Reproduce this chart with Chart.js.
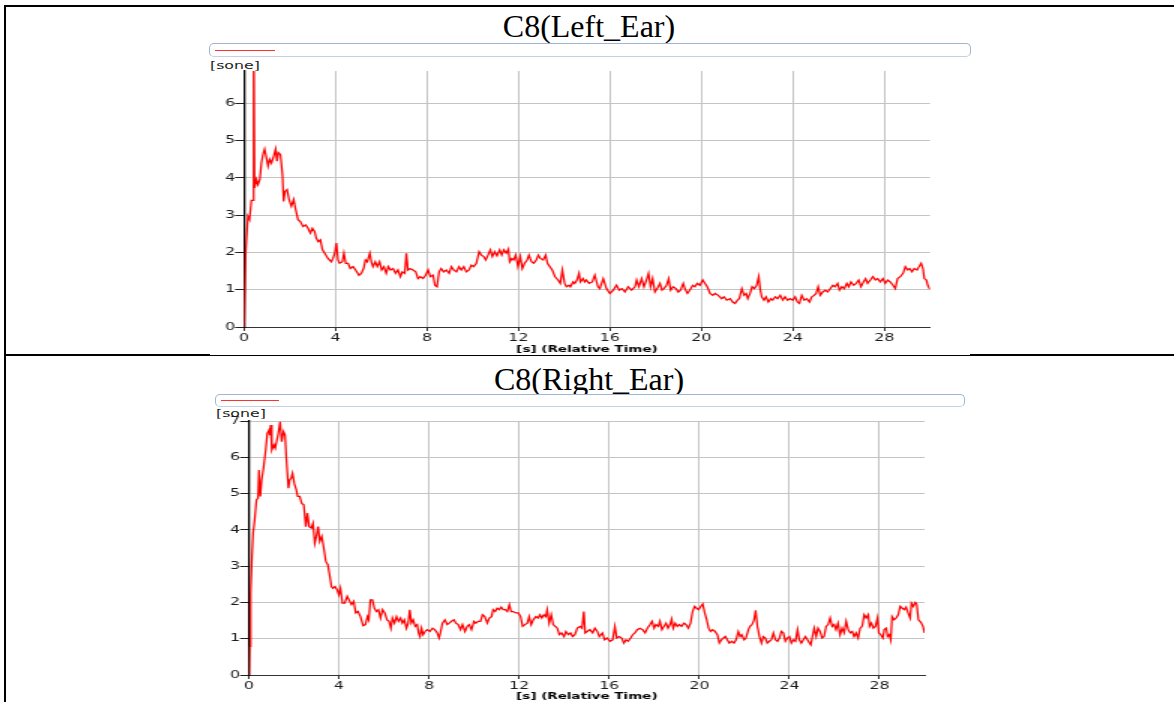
<!DOCTYPE html>
<html>
<head>
<meta charset="utf-8">
<script src="https://cdn.jsdelivr.net/npm/chart.js@4.4.0/dist/chart.umd.min.js"></script>
<style>
    body { margin: 0; width: 1174px; height: 702px; overflow: hidden; background: #fff; position: relative; font-family: "DejaVu Sans", sans-serif; }
    .rule { position: absolute; background: #000; }
    .title { position: absolute; left: 0; width: 1178px; text-align: center; font-family: "Liberation Serif", "Times New Roman", serif; font-size: 32px; line-height: 32px; color: #000; }
    .legend { position: absolute; box-sizing: border-box; border: 1px solid #9fb5d0; border-bottom-color: #c3d2e3; border-radius: 5px; background: #fff; }
    .legend span { position: absolute; height: 1px; background: #ff3030; }
    .unit { position: absolute; font-size: 10.5px; line-height: 10px; color: #222; transform: scaleX(1.5); transform-origin: 0 0; white-space: nowrap; }
    .stretch { position: absolute; transform: scaleX(1.5); transform-origin: 0 0; }
</style>
</head>
<body>
<div class="rule" style="left:4px;top:5px;width:1170px;height:2px"></div>
<div class="rule" style="left:4px;top:5px;width:2px;height:697px"></div>
<div class="rule" style="left:4px;top:354px;width:206px;height:2px"></div>
<div class="rule" style="left:210px;top:355px;width:760px;height:1px"></div>
<div class="rule" style="left:970px;top:354px;width:204px;height:2px"></div>

<div class="title" style="top:10px">C8(Left_Ear)</div>
<div class="legend" style="left:209px;top:43px;width:762px;height:14px"><span style="left:5px;top:6px;width:60px"></span></div>
<div class="unit" style="left:210px;top:60px">[sone]</div>
<div class="stretch" style="left:200px;top:60px"><canvas id="leftEarChart" width="507" height="296"></canvas></div>

<div class="title" style="top:363px">C8(Right_Ear)</div>
<div class="legend" style="left:215px;top:394px;width:750px;height:13px"><span style="left:5px;top:5px;width:58px"></span></div>
<div class="unit" style="left:216px;top:408px">[sone]</div>
<div class="stretch" style="left:200px;top:410px"><canvas id="rightEarChart" width="507" height="295"></canvas></div>

<script>
// C8 loudness over time, left ear
const leftTime = [0, 0.07, 0.17, 0.24, 0.32, 0.39, 0.42, 0.46, 0.54, 0.61, 0.69, 0.76, 0.83, 0.9, 0.98, 1.05, 1.12, 1.2, 1.3, 1.38,
    1.44, 1.5, 1.59, 1.68, 1.73, 1.79, 1.88, 1.97, 2.07, 2.17, 2.26, 2.36, 2.46, 2.58, 2.7, 2.8, 2.9, 2.99, 3.09, 3.16,
    3.25, 3.34, 3.43, 3.53, 3.67, 3.82, 3.89, 3.97, 4.04, 4.11, 4.18, 4.3, 4.37, 4.45, 4.55, 4.65, 4.77, 4.88, 5.03, 5.13,
    5.23, 5.31, 5.39, 5.5, 5.57, 5.64, 5.74, 5.83, 5.93, 6.02, 6.12, 6.22, 6.31, 6.41, 6.52, 6.63, 6.73, 6.84, 6.92, 7.03,
    7.1, 7.17, 7.27, 7.39, 7.51, 7.61, 7.71, 7.83, 7.94, 8.05, 8.15, 8.27, 8.35, 8.44, 8.53, 8.62, 8.73, 8.85, 8.97, 9.07,
    9.17, 9.29, 9.4, 9.5, 9.61, 9.72, 9.84, 9.94, 10.04, 10.16, 10.28, 10.38, 10.48, 10.57, 10.67, 10.77, 10.86, 10.96, 11.06, 11.18,
    11.27, 11.36, 11.47, 11.56, 11.62, 11.71, 11.79, 11.88, 11.98, 12.08, 12.17, 12.27, 12.38, 12.46, 12.57, 12.67, 12.78, 12.87, 12.96, 13.08,
    13.19, 13.27, 13.37, 13.48, 13.6, 13.73, 13.83, 13.92, 14.02, 14.1, 14.21, 14.27, 14.39, 14.46, 14.56, 14.65, 14.71, 14.83, 14.9, 14.97,
    15.09, 15.23, 15.34, 15.48, 15.56, 15.71, 15.85, 16.0, 16.15, 16.29, 16.41, 16.53, 16.66, 16.8, 16.95, 17.1, 17.17, 17.27, 17.39, 17.49,
    17.6, 17.69, 17.78, 17.87, 17.97, 18.07, 18.19, 18.28, 18.36, 18.48, 18.57, 18.66, 18.77, 18.89, 18.99, 19.09, 19.21, 19.28, 19.39, 19.5,
    19.62, 19.72, 19.82, 19.94, 20.06, 20.16, 20.26, 20.38, 20.5, 20.6, 20.74, 20.89, 20.99, 21.11, 21.26, 21.37, 21.47, 21.58, 21.66, 21.77,
    21.87, 21.96, 22.03, 22.13, 22.22, 22.32, 22.42, 22.51, 22.57, 22.64, 22.74, 22.83, 22.93, 23.04, 23.12, 23.23, 23.33, 23.45, 23.56, 23.66,
    23.77, 23.88, 24.0, 24.1, 24.2, 24.29, 24.39, 24.5, 24.61, 24.73, 24.83, 24.93, 25.02, 25.11, 25.2, 25.31, 25.42, 25.52, 25.64, 25.75,
    25.85, 25.96, 26.04, 26.15, 26.25, 26.36, 26.45, 26.54, 26.66, 26.77, 26.88, 26.98, 27.09, 27.18, 27.27, 27.39, 27.5, 27.61, 27.71, 27.82,
    27.94, 28.04, 28.15, 28.26, 28.38, 28.48, 28.58, 28.7, 28.82, 28.92, 29.02, 29.11, 29.21, 29.31, 29.43, 29.52, 29.61, 29.69, 29.75, 29.84,
    29.9, 29.99];
const leftSone = [0, 1.98, 2.97, 2.88, 3.4, 3.4, 8.5, 3.73, 3.96, 3.82, 3.96, 4.4, 4.63, 4.77, 4.54, 4.32, 4.5, 4.4, 4.59, 4.77,
    4.45, 4.68, 4.63, 4.1, 3.37, 3.64, 3.69, 3.42, 3.24, 3.42, 3.15, 2.88, 2.83, 2.7, 2.74, 2.65, 2.52, 2.65, 2.56, 2.38,
    2.29, 2.34, 2.07, 1.98, 1.84, 1.75, 1.84, 1.98, 2.25, 1.8, 1.71, 1.75, 1.98, 1.71, 1.71, 1.57, 1.62, 1.53, 1.39, 1.44,
    1.57, 1.8, 1.75, 1.98, 1.75, 1.62, 1.75, 1.62, 1.75, 1.53, 1.62, 1.44, 1.62, 1.53, 1.57, 1.44, 1.53, 1.35, 1.48, 1.44,
    1.98, 1.53, 1.57, 1.53, 1.48, 1.3, 1.35, 1.3, 1.39, 1.53, 1.35, 1.39, 1.12, 1.08, 1.48, 1.57, 1.48, 1.53, 1.44, 1.62,
    1.53, 1.48, 1.62, 1.53, 1.62, 1.48, 1.53, 1.66, 1.62, 1.71, 2.02, 1.93, 1.89, 1.8, 1.93, 2.07, 1.89, 2.02, 1.91, 2.07,
    1.93, 2.07, 1.98, 2.09, 1.75, 1.84, 1.8, 1.93, 1.62, 1.89, 1.57, 1.71, 1.8, 1.93, 1.75, 1.71, 1.8, 1.93, 1.84, 1.8,
    1.93, 1.71, 1.62, 1.53, 1.35, 1.26, 1.17, 1.53, 1.17, 1.08, 1.12, 1.08, 1.21, 1.17, 1.26, 1.44, 1.21, 1.3, 1.21, 1.26,
    1.17, 1.21, 1.39, 1.08, 1.03, 1.3, 1.03, 0.9, 0.99, 1.12, 0.99, 1.03, 0.94, 1.08, 0.99, 1.08, 1.26, 1.08, 1.3, 1.08,
    1.26, 1.44, 1.08, 1.3, 0.94, 1.03, 1.17, 0.99, 1.03, 1.12, 1.3, 0.99, 1.08, 1.03, 0.94, 0.99, 1.17, 1.03, 0.9, 0.99,
    1.12, 1.08, 1.17, 1.12, 1.26, 1.17, 1.08, 0.9, 0.85, 0.9, 0.85, 0.76, 0.81, 0.72, 0.76, 0.67, 0.63, 0.72, 0.76, 1.03,
    0.85, 0.9, 0.76, 0.9, 1.08, 1.03, 1.12, 1.35, 1.03, 0.81, 0.72, 0.81, 0.67, 0.76, 0.72, 0.81, 0.76, 0.85, 0.72, 0.81,
    0.72, 0.76, 0.72, 0.81, 0.67, 0.63, 0.85, 0.72, 0.76, 0.67, 0.81, 0.85, 0.9, 1.08, 0.85, 0.94, 0.99, 0.94, 1.03, 1.12,
    1.08, 1.17, 0.99, 1.08, 1.03, 1.17, 1.08, 1.21, 1.12, 1.17, 1.26, 1.08, 1.21, 1.3, 1.17, 1.26, 1.35, 1.26, 1.3, 1.21,
    1.3, 1.17, 1.26, 1.21, 1.12, 1.03, 1.3, 1.35, 1.44, 1.62, 1.53, 1.57, 1.48, 1.57, 1.53, 1.62, 1.71, 1.57, 1.3, 1.26,
    1.12, 1.01];

// C8 loudness over time, right ear
const rightTime = [0, 0.03, 0.07, 0.13, 0.18, 0.25, 0.33, 0.4, 0.44, 0.5, 0.56, 0.65, 0.74, 0.81, 0.89, 0.92, 0.96, 1.01, 1.1, 1.16,
    1.24, 1.3, 1.38, 1.45, 1.53, 1.6, 1.66, 1.75, 1.81, 1.87, 1.93, 2.01, 2.1, 2.16, 2.25, 2.34, 2.43, 2.52, 2.59, 2.67,
    2.77, 2.84, 2.92, 2.99, 3.07, 3.14, 3.23, 3.32, 3.41, 3.5, 3.59, 3.66, 3.73, 3.82, 3.91, 3.99, 4.06, 4.15, 4.25, 4.36,
    4.44, 4.55, 4.65, 4.74, 4.84, 4.95, 5.07, 5.17, 5.26, 5.32, 5.39, 5.48, 5.57, 5.66, 5.75, 5.84, 5.93, 6.03, 6.13, 6.22,
    6.3, 6.37, 6.46, 6.55, 6.64, 6.73, 6.81, 6.9, 6.99, 7.07, 7.14, 7.21, 7.29, 7.38, 7.47, 7.53, 7.59, 7.66, 7.73, 7.82,
    7.91, 8.03, 8.15, 8.25, 8.36, 8.44, 8.5, 8.59, 8.7, 8.8, 8.89, 8.99, 9.1, 9.19, 9.29, 9.39, 9.48, 9.59, 9.69, 9.78,
    9.88, 9.99, 10.07, 10.18, 10.28, 10.37, 10.47, 10.58, 10.67, 10.77, 10.84, 10.93, 11.02, 11.11, 11.2, 11.29, 11.38, 11.47, 11.56, 11.64,
    11.73, 11.85, 11.96, 12.06, 12.15, 12.25, 12.36, 12.44, 12.53, 12.62, 12.74, 12.84, 12.92, 13.0, 13.09, 13.18, 13.24, 13.33, 13.42, 13.51,
    13.6, 13.69, 13.78, 13.88, 13.99, 14.07, 14.18, 14.28, 14.37, 14.47, 14.58, 14.7, 14.79, 14.87, 14.93, 15.02, 15.14, 15.26, 15.36, 15.47,
    15.56, 15.7, 15.79, 15.91, 16.03, 16.15, 16.25, 16.33, 16.44, 16.55, 16.65, 16.74, 16.84, 16.95, 17.04, 17.14, 17.24, 17.36, 17.48, 17.59,
    17.69, 17.81, 17.9, 17.99, 18.07, 18.18, 18.25, 18.34, 18.43, 18.52, 18.61, 18.7, 18.77, 18.84, 18.93, 19.02, 19.11, 19.21, 19.32, 19.41,
    19.51, 19.61, 19.7, 19.79, 19.88, 19.97, 20.06, 20.15, 20.24, 20.33, 20.41, 20.5, 20.59, 20.7, 20.8, 20.89, 20.98, 21.07, 21.16, 21.24,
    21.33, 21.44, 21.54, 21.63, 21.73, 21.81, 21.88, 21.99, 22.07, 22.18, 22.25, 22.34, 22.43, 22.5, 22.58, 22.67, 22.76, 22.84, 22.93, 23.02,
    23.11, 23.2, 23.29, 23.38, 23.47, 23.56, 23.64, 23.73, 23.82, 23.91, 24.0, 24.09, 24.18, 24.27, 24.36, 24.44, 24.53, 24.62, 24.71, 24.8,
    24.89, 24.95, 25.04, 25.1, 25.19, 25.27, 25.36, 25.45, 25.54, 25.63, 25.72, 25.81, 25.9, 25.99, 26.07, 26.16, 26.25, 26.34, 26.43, 26.52,
    26.61, 26.7, 26.79, 26.87, 26.96, 27.05, 27.14, 27.23, 27.32, 27.41, 27.5, 27.56, 27.64, 27.73, 27.82, 27.91, 27.97, 28.06, 28.15, 28.21,
    28.3, 28.36, 28.44, 28.5, 28.56, 28.65, 28.74, 28.83, 28.92, 29.01, 29.1, 29.18, 29.27, 29.36, 29.42, 29.5, 29.59, 29.65, 29.73, 29.84,
    29.93, 30.0];
const rightSone = [0, 0.79, 2.26, 3.27, 3.91, 4.28, 4.83, 4.87, 5.65, 4.92, 5.38, 5.74, 6.2, 6.66, 6.75, 6.61, 6.89, 6.2, 6.34, 6.25,
    6.48, 6.66, 6.98, 6.43, 6.71, 6.61, 5.93, 5.15, 5.38, 5.42, 5.56, 5.28, 5.1, 4.92, 4.92, 4.73, 4.69, 4.09, 4.46, 4.09,
    4.05, 4.18, 3.63, 3.82, 4.09, 3.68, 3.82, 3.5, 3.13, 3.04, 2.72, 2.44, 2.39, 2.44, 2.35, 2.21, 2.39, 1.98, 1.98, 2.17,
    2.07, 1.94, 2.03, 1.71, 1.75, 1.61, 1.36, 1.39, 1.61, 1.52, 2.07, 2.07, 1.84, 1.75, 1.8, 1.57, 1.8, 1.71, 1.52, 1.48,
    1.29, 1.57, 1.43, 1.61, 1.48, 1.57, 1.43, 1.52, 1.29, 1.43, 1.8, 1.43, 1.52, 1.34, 1.39, 1.16, 1.06, 1.29, 1.11, 1.2,
    1.25, 1.2, 1.29, 1.25, 1.16, 1.02, 1.16, 1.43, 1.52, 1.39, 1.43, 1.48, 1.52, 1.43, 1.39, 1.25, 1.39, 1.2, 1.34, 1.39,
    1.25, 1.48, 1.43, 1.48, 1.48, 1.66, 1.61, 1.43, 1.57, 1.61, 1.8, 1.75, 1.84, 1.8, 1.87, 1.8, 1.8, 1.75, 1.94, 1.75,
    1.75, 1.71, 1.71, 1.61, 1.34, 1.39, 1.43, 1.61, 1.39, 1.52, 1.61, 1.57, 1.66, 1.57, 1.66, 1.61, 1.8, 1.43, 1.66, 1.39,
    1.34, 1.29, 1.11, 1.16, 1.06, 1.2, 1.11, 1.16, 1.06, 1.11, 1.29, 1.34, 1.29, 1.75, 1.16, 1.2, 1.25, 1.16, 1.29, 1.2,
    1.06, 1.16, 0.97, 1.02, 0.93, 0.97, 1.34, 1.02, 1.06, 1.02, 0.88, 0.97, 0.93, 1.02, 1.11, 1.16, 1.25, 1.29, 1.25, 1.16,
    1.29, 1.39, 1.48, 1.29, 1.39, 1.34, 1.48, 1.25, 1.34, 1.43, 1.29, 1.39, 1.54, 1.29, 1.43, 1.34, 1.39, 1.34, 1.43, 1.39,
    1.29, 1.43, 1.75, 1.89, 1.84, 1.8, 1.89, 1.96, 1.71, 1.52, 1.29, 1.2, 1.25, 1.2, 1.11, 0.88, 0.97, 1.02, 1.06, 0.97,
    0.88, 0.93, 0.88, 0.97, 1.2, 1.06, 1.11, 0.97, 1.02, 1.25, 1.34, 1.39, 1.52, 1.78, 1.34, 1.06, 0.88, 1.06, 1.02, 0.88,
    0.93, 0.97, 1.16, 0.97, 0.93, 1.02, 1.2, 1.16, 0.93, 1.02, 1.06, 0.88, 0.97, 0.93, 1.25, 0.97, 0.88, 0.97, 1.06, 0.97,
    0.88, 0.83, 1.11, 1.29, 1.06, 1.29, 1.2, 1.02, 1.06, 1.34, 1.39, 1.57, 1.34, 1.39, 1.25, 1.43, 1.11, 1.29, 1.16, 1.48,
    1.25, 1.16, 1.2, 1.06, 1.16, 1.02, 1.29, 1.34, 1.66, 1.57, 1.66, 1.34, 1.43, 1.29, 1.34, 1.57, 1.16, 1.11, 1.02, 1.25,
    1.29, 1.06, 1.11, 0.97, 1.61, 1.52, 1.57, 1.66, 1.89, 1.84, 1.8, 1.87, 1.71, 1.57, 1.98, 1.89, 2.0, 1.96, 1.52, 1.45,
    1.34, 1.16];

const xTickStep = 4;
const xMax = 30;
const leftMax = 6.87;
const rightMax = 7;

function earConfig(times, values, yMax, axisWidth, padRight, xAxisHeight, titlePad) {
    return {
        type: 'line',
        data: {
            datasets: [{
                data: times.map((t, i) => ({ x: t, y: values[i] })),
                borderColor: '#ff0000',
                borderWidth: 1.25,
                pointRadius: 0,
                tension: 0,
                fill: false
            }]
        },
        options: {
            responsive: false,
            animation: false,
            events: [],
            layout: { padding: { left: 0, top: 11, right: padRight, bottom: 0 } },
            plugins: { legend: { display: false }, tooltip: { enabled: false } },
            scales: {
                x: {
                    type: 'linear',
                    min: 0,
                    max: xMax,
                    afterFit: function (scale) { scale.height = xAxisHeight; },
                    ticks: { stepSize: xTickStep, includeBounds: false, padding: 1, maxRotation: 0, color: '#1a1a1a', font: { family: 'DejaVu Sans', size: 10.5 } },
                    grid: { color: '#c4c4c4', tickColor: '#333', tickLength: 4 },
                    border: { color: '#333', width: 1 },
                    title: {
                        display: true,
                        text: '[s] (Relative Time)',
                        color: '#000',
                        font: { family: 'DejaVu Sans', size: 9, weight: 'bold' },
                        padding: { top: 0, bottom: titlePad }
                    }
                },
                y: {
                    min: 0,
                    max: yMax,
                    afterFit: function (scale) { scale.width = axisWidth; },
                    ticks: { stepSize: 1, includeBounds: false, padding: 0, color: '#1a1a1a', font: { family: 'DejaVu Sans', size: 10.5 } },
                    grid: { color: '#c4c4c4', tickColor: '#222', tickLength: 6 },
                    border: { color: '#000', width: 1.3 }
                }
            }
        }
    };
}

var leftEarChart = new Chart(document.getElementById('leftEarChart'), earConfig(leftTime, leftSone, leftMax, 29.33, 20.33, 29, 0.5));
var rightEarChart = new Chart(document.getElementById('rightEarChart'), earConfig(rightTime, rightSone, rightMax, 32.67, 24, 30, 2.5));
</script>
</body>
</html>
